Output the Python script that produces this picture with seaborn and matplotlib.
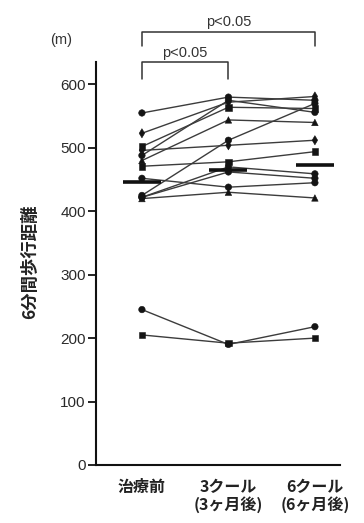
import matplotlib
matplotlib.use("Agg")
import matplotlib.pyplot as plt
import seaborn as sns
import pandas as pd

# Six-minute walk distance (m) per patient at three time points
timepoints = ["治療前", "3クール\n(3ヶ月後)", "6クール\n(6ヶ月後)"]
before = [555, 523, 502, 496, 488, 480, 471, 452, 425, 422, 420, 422, 245, 205]
after_3 = [580, 572, 564, 504, 575, 544, 478, 438, 512, 470, 430, 462, 190, 192]
after_6 = [575, 581, 562, 512, 556, 540, 494, 445, 570, 459, 421, 452, 218, 200]
shapes = ["circle", "diamond", "square", "diamond", "circle", "triangle", "square",
          "circle", "circle", "circle", "triangle", "circle", "circle", "square"]
group_means = [446, 465, 473]
y_ticks = [0, 100, 200, 300, 400, 500, 600]
comparisons = [(0, 1, "p<0.05"), (0, 2, "p<0.05")]

rows = []
for pid, (a, b, c, shp) in enumerate(zip(before, after_3, after_6, shapes)):
    for pos, val in enumerate((a, b, c)):
        rows.append({"patient": pid, "pos": pos, "dist": val, "shape": shp})
df = pd.DataFrame(rows)

sns.set_theme(style="white")
plt.rcParams["font.family"] = ["Liberation Sans", "Noto Sans CJK JP", "DejaVu Sans"]

fig = plt.figure(figsize=(3.64, 5.23), dpi=100)
ax = fig.add_axes([0.264, 0.111, 0.67, 0.77])

sns.lineplot(data=df, x="pos", y="dist", units="patient", estimator=None,
             color="#3c3c3c", lw=1.0, ax=ax, legend=False, zorder=2)
sns.scatterplot(data=df, x="pos", y="dist", style="shape",
                markers={"circle": "o", "diamond": "d", "triangle": "^", "square": "s"},
                color="#141414", edgecolor="#141414", s=22, ax=ax, legend=False, zorder=3)

# group mean bars
for pos, m in enumerate(group_means):
    ax.hlines(m, pos - 0.22, pos + 0.22, color="#111111", lw=2.6, zorder=4)

ax.set_xlim(-0.53, 2.29)
ax.set_ylim(0, 635)
ax.set_yticks(y_ticks)
ax.set_xticks(range(len(timepoints)))
ax.set_xticklabels(timepoints, fontsize=11.5, fontweight="bold",
                   family=["Noto Sans CJK JP", "DejaVu Sans"], color="#222222",
                   linespacing=1.1)
ax.tick_params(axis="x", length=0, pad=10)
ax.tick_params(axis="y", length=6, width=1.3, direction="out", pad=1.5,
               labelsize=11, labelcolor="#2a2a2a", color="#111111", left=True)
ax.set_xlabel("")
ax.set_ylabel("")
for side in ("top", "right"):
    ax.spines[side].set_visible(False)
for side in ("left", "bottom"):
    ax.spines[side].set_color("#111111")
    ax.spines[side].set_linewidth(1.5)

# significance brackets
bracket_levels = {(0, 1): (609, 635), (0, 2): (661, 683)}
for x0, x1, label in comparisons:
    low, high = bracket_levels[(x0, x1)]
    ax.plot([x0, x0, x1, x1], [low, high, high, low], color="#333333",
            lw=1.1, clip_on=False)
    ax.text((x0 + x1) / 2, high + 4, label, ha="center", va="bottom",
            fontsize=10.5, color="#333333", clip_on=False)

fig.text(61 / 364, 1 - 40 / 523, "(m)", ha="center", va="center",
         fontsize=10.5, color="#333333")
fig.text(30 / 364, 0.5, "6分間歩行距離", rotation=90, ha="center", va="center",
         fontsize=12.5, fontweight="bold",
         family=["Noto Sans CJK JP", "DejaVu Sans"], color="#222222")

fig.savefig("out.png", dpi=100, facecolor="white")
